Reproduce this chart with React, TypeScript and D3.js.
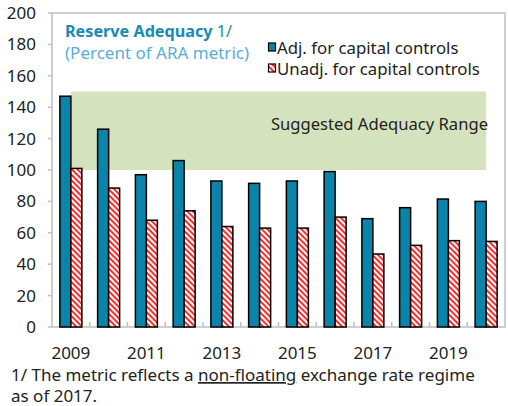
import React from "react";
import * as d3 from "d3";

const years = ["2009","2010","2011","2012","2013","2014","2015","2016","2017","2018","2019","2020"];
const adjusted = [147, 126, 97, 106, 93, 91.5, 93, 99, 69, 76, 81.5, 80];
const unadjusted = [101, 88.5, 68, 74, 64, 63, 63, 70, 46.5, 52, 55, 54.5];
const yTicks = [0, 20, 40, 60, 80, 100, 120, 140, 160, 180, 200];
const xLabels = ["2009","2011","2013","2015","2017","2019"];
const rangeLow = 100;
const rangeHigh = 150;

const W = 508, H = 406;
const left = 52, right = 505, top = 13, bottom = 327;
const FONT = "'Noto Sans', 'Open Sans', sans-serif";
const BLUE = "#0a84a8";
const RED = "#ff2b2b";

export default function App() {
  const x = d3.scaleBand<string>().domain(years).range([left, right]).padding(0);
  const y = d3.scaleLinear().domain([0, 200]).range([bottom, top]);
  const bw = 11;
  const bandX0 = x(years[0])! + x.bandwidth() / 2;
  const bandX1 = x(years[years.length - 1])! + x.bandwidth() / 2;

  return (
    <svg width={W} height={H} style={{ position: "absolute", left: 0, top: 0, background: "#fff" }} fontFamily={FONT}>
      <defs>
        <pattern id="hatch" patternUnits="userSpaceOnUse" width="4" height="4" patternTransform="rotate(45)">
          <rect width="4" height="4" fill="#fff" />
          <rect x="0" y="0" width="4" height="2" fill={RED} />
        </pattern>
      </defs>
      {/* frame */}
      <rect x={left} y={top} width={right - left} height={bottom - top} fill="none" stroke="#bfbfbf" strokeWidth={1.5} />
      {/* range band */}
      <rect x={bandX0} y={y(rangeHigh)} width={bandX1 - bandX0} height={y(rangeLow) - y(rangeHigh)} fill="#d4e3bd" />
      <text x={488} y={130} textAnchor="end" fontSize={16.6} fill="#222">Suggested Adequacy Range</text>
      {/* y ticks */}
      {yTicks.map(t => (
        <g key={t}>
          <line x1={left - 4} x2={left} y1={y(t)} y2={y(t)} stroke="#bfbfbf" strokeWidth={1.5} />
          <text x={36} y={y(t)} dy="0.35em" textAnchor="end" fontSize={17} fill="#222">{t}</text>
        </g>
      ))}
      {/* x ticks */}
      {years.slice(1).map(yr => (
        <line key={yr} x1={x(yr)} x2={x(yr)} y1={bottom} y2={bottom - 5} stroke="#bfbfbf" strokeWidth={1.5} />
      ))}
      {xLabels.map(yr => (
        <text key={yr} x={x(yr)! + x.bandwidth() / 2} y={359} textAnchor="middle" fontSize={17} fill="#222">{yr}</text>
      ))}
      {/* bars */}
      {years.map((yr, i) => {
        const cx = x(yr)! + x.bandwidth() / 2;
        return (
          <g key={yr}>
            <rect x={cx - bw} y={y(adjusted[i])} width={bw} height={bottom - y(adjusted[i])} fill={BLUE} stroke="#000" strokeWidth={1.5} />
            <rect x={cx} y={y(unadjusted[i])} width={bw} height={bottom - y(unadjusted[i])} fill="url(#hatch)" stroke="#000" strokeWidth={1.5} />
          </g>
        );
      })}
      {/* title */}
      <text x={65} y={37} fontSize={16.2} fill="#1a8ab4">
        <tspan fontWeight="bold">Reserve Adequacy</tspan><tspan> 1/</tspan>
      </text>
      <text x={65} y={59} fontSize={17} fill="#5aaed3">(Percent of ARA metric)</text>
      {/* legend */}
      <rect x={268.5} y={43} width={7} height={8} fill={BLUE} stroke="#000" strokeWidth={1.2} />
      <text x={277} y={54} fontSize={16.8} fill="#222">Adj. for capital controls</text>
      <rect x={268.5} y={64} width={7} height={8} fill="url(#hatch)" stroke="#000" strokeWidth={1.2} />
      <text x={277} y={75} fontSize={16.8} fill="#222">Unadj. for capital controls</text>
      {/* footnote */}
      <text x={11} y={381} fontSize={17} fill="#222">
        1/ The metric reflects a <tspan textDecoration="underline">non-floating</tspan> exchange rate regime
      </text>
      <text x={11} y={402} fontSize={17} fill="#222">as of 2017.</text>
    </svg>
  );
}
